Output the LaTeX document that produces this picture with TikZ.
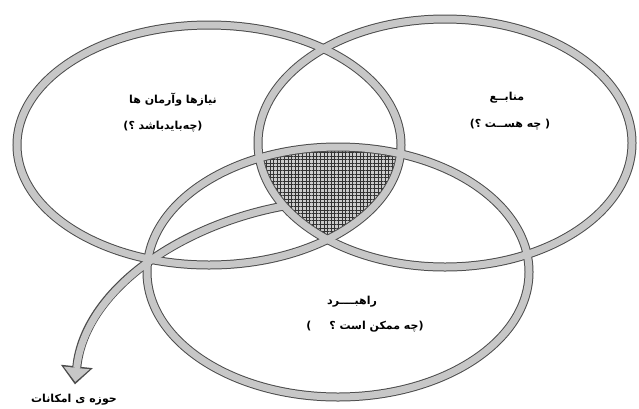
\documentclass[tikz,border=0pt]{standalone}
\usepackage{fontspec}
\newfontfamily\farsi[Script=Arabic]{DejaVu Sans}
\TeXXeTstate=1
\usetikzlibrary{arrows.meta, patterns.meta}
\tikzset{
  ringedge/.style={draw=black!70, line width=9pt},
  ringbody/.style={draw=black!22, line width=7pt},
  fatext/.style={font=\farsi\bfseries\fontsize{11}{13}\selectfont, inner sep=1pt},
  mesh/.style={pattern={Hatch[angle=0, distance=3.6pt, line width=0.8pt]}, pattern color=black!80},
}
\newcommand\needsring{(209,145) ellipse [x radius=192pt, y radius=120pt]}
\newcommand\sourcering{(445,143) ellipse [x radius=187pt, y radius=124pt]}
\newcommand\stratring{(338,272) ellipse [x radius=191pt, y radius=125pt]}

\begin{document}
\begin{tikzpicture}[x=1pt, y=-1pt]
\useasboundingbox (0,0) rectangle (639,408);

% common core of the three rings
\begin{scope}
  \clip \needsring;
  \clip \sourcering;
  \fill[black!20] \stratring;
  \fill[mesh] \stratring;
\end{scope}

\coordinate (fieldstart) at (284,206);
\node[fatext] (field) at (74,400) {\beginR حوزه ی امکانات\endR};

% dark rims first, light bodies on top so the crossings merge
\draw[ringedge] \needsring;
\draw[ringedge] \sourcering;
\draw[ringedge] \stratring;
\draw[ringedge, shorten >=9pt, -{Triangle[width=32pt, length=18pt, line width=0pt]}]
  (fieldstart) .. controls (180,225) and (85,290) .. (field.north);

\draw[ringbody] \needsring;
\draw[ringbody] \sourcering;
\draw[ringbody] \stratring;
\draw[ringbody, shorten >=11.5pt, -{Triangle[width=26pt, length=14pt, line width=0pt]}]
  (fieldstart) .. controls (180,225) and (85,290) .. (field.north);

\node[fatext] (needs)   at (173,100) {\beginR نیازها وآرمان ها\endR};
\node[fatext] (needsq)  at (163,127) {\beginR (چه‌بایدباشد ؟)\endR};
\node[fatext] (source)  at (507,98)  {\beginR منابــع\endR};
\node[fatext] (sourceq) at (510,125) {\beginR ( چه هســت ؟)\endR};
\node[fatext] (strat)   at (352,302) {\beginR راهبــــرد\endR};
\node[fatext] (stratq)  at (365,327) {\beginR (چه ممکن است ؟ \hspace{14pt})\endR};
\end{tikzpicture}
\end{document}
